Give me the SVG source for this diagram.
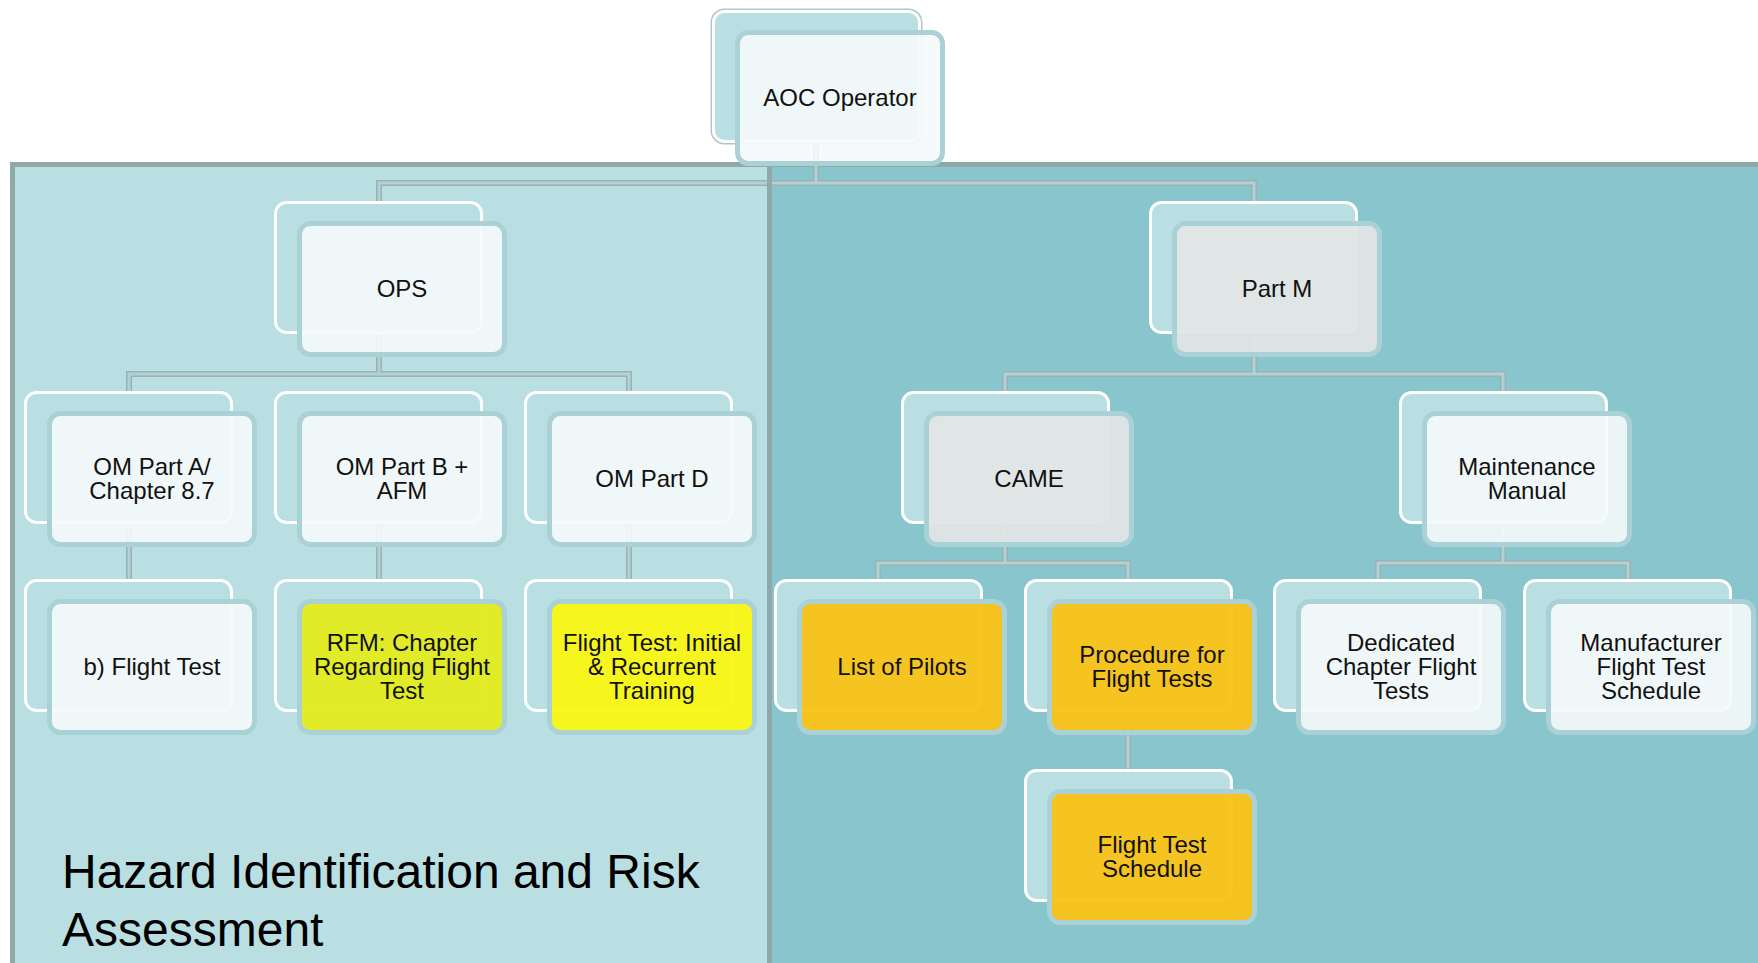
<svg xmlns="http://www.w3.org/2000/svg" width="1758" height="963" viewBox="0 0 1758 963">
  <style>
    .edge { fill: none; stroke: #b3c6c8; stroke-width: 6; }
    .bk { fill: #b9dfe2; stroke: #ffffff; stroke-width: 3; }
    .fr { stroke: #aad2d6; stroke-width: 5; fill-opacity: 0.9; }
    .w { fill: #f6fafb; }
    .g { fill: #e1e5e6; fill-opacity: 0.95; }
    .y1 { fill: #e3eb21; fill-opacity: 0.97; }
    .y2 { fill: #f8f718; fill-opacity: 0.97; }
    .o { fill: #f8c31a; fill-opacity: 0.97; }
    .lbl { font-family: "Liberation Sans", Arial, sans-serif; font-size: 24px; fill: #111; text-anchor: middle; }
    .c-out { fill: none; stroke: #98b3b6; stroke-width: 6; stroke-linejoin: miter; }
    .c-in { fill: none; stroke: #b3d0d3; stroke-width: 3; stroke-linejoin: miter; }
    .title { font-family: "Liberation Sans", Arial, sans-serif; font-size: 48px; fill: #000; }
  </style>
  <defs>
    <path id="links" d="M816,143 V183 M379,201 V183 H1254 V201
                        M379,334 V374 M129,391 V374 H629 V391
                        M1254,334 V374 M1005,391 V374 H1503 V391
                        M129,524 V579 M379,524 V579 M629,524 V579
                        M1005,524 V563 M878,579 V563 H1128 V579
                        M1503,524 V563 M1378,579 V563 H1628 V579
                        M1128,712 V769"/>
  </defs>

  <rect width="1758" height="963" fill="#ffffff"/>

  <!-- background panels -->
  <g id="panels">
    <rect x="10" y="162" width="1748" height="801" fill="#8fa9ab"/>
    <rect x="15" y="167" width="752" height="796" fill="#b9dfe2"/>
    <rect x="772" y="167" width="986" height="796" fill="#89c5cd"/>
  </g>

  <!-- connectors -->
  <g id="connectors">
    <use href="#links" class="c-out"/>
    <use href="#links" class="c-in"/>
  </g>

  <!-- panel divider -->
  <rect x="767" y="162" width="5" height="801" fill="#8fa9ab"/>

  <text class="title" x="62" y="888">Hazard Identification and Risk</text>
  <text class="title" x="62" y="946">Assessment</text>

  <!-- nodes -->
  <g id="aoc" transform="translate(712,10)">
    <rect class="edge" x="1.5" y="1.5" width="206" height="130" rx="11"/>
    <rect class="bk" x="1.5" y="1.5" width="206" height="130" rx="11"/>
    <rect class="fr w" x="25.5" y="22.5" width="205" height="131" rx="11"/>
    <text class="lbl" x="128" y="95.5">AOC Operator</text>
  </g>

  <g id="ops" transform="translate(274,201)">
    <rect class="bk" x="1.5" y="1.5" width="206" height="130" rx="11"/>
    <rect class="fr w" x="25.5" y="22.5" width="205" height="131" rx="11"/>
    <text class="lbl" x="128" y="95.5">OPS</text>
  </g>

  <g id="part-m" transform="translate(1149,201)">
    <rect class="bk" x="1.5" y="1.5" width="206" height="130" rx="11"/>
    <rect class="fr g" x="25.5" y="22.5" width="205" height="131" rx="11"/>
    <text class="lbl" x="128" y="95.5">Part M</text>
  </g>

  <g id="om-part-a" transform="translate(24,391)">
    <rect class="bk" x="1.5" y="1.5" width="206" height="130" rx="11"/>
    <rect class="fr w" x="25.5" y="22.5" width="205" height="131" rx="11"/>
    <text class="lbl" x="128" y="83.5">OM Part A/<tspan x="128" dy="24">Chapter 8.7</tspan></text>
  </g>

  <g id="om-part-b" transform="translate(274,391)">
    <rect class="bk" x="1.5" y="1.5" width="206" height="130" rx="11"/>
    <rect class="fr w" x="25.5" y="22.5" width="205" height="131" rx="11"/>
    <text class="lbl" x="128" y="83.5">OM Part B +<tspan x="128" dy="24">AFM</tspan></text>
  </g>

  <g id="om-part-d" transform="translate(524,391)">
    <rect class="bk" x="1.5" y="1.5" width="206" height="130" rx="11"/>
    <rect class="fr w" x="25.5" y="22.5" width="205" height="131" rx="11"/>
    <text class="lbl" x="128" y="95.5">OM Part D</text>
  </g>

  <g id="came" transform="translate(901,391)">
    <rect class="bk" x="1.5" y="1.5" width="206" height="130" rx="11"/>
    <rect class="fr g" x="25.5" y="22.5" width="205" height="131" rx="11"/>
    <text class="lbl" x="128" y="95.5">CAME</text>
  </g>

  <g id="maintenance-manual" transform="translate(1399,391)">
    <rect class="bk" x="1.5" y="1.5" width="206" height="130" rx="11"/>
    <rect class="fr w" x="25.5" y="22.5" width="205" height="131" rx="11"/>
    <text class="lbl" x="128" y="83.5">Maintenance<tspan x="128" dy="24">Manual</tspan></text>
  </g>

  <g id="b-flight-test" transform="translate(24,579)">
    <rect class="bk" x="1.5" y="1.5" width="206" height="130" rx="11"/>
    <rect class="fr w" x="25.5" y="22.5" width="205" height="131" rx="11"/>
    <text class="lbl" x="128" y="95.5">b) Flight Test</text>
  </g>

  <g id="rfm-chapter" transform="translate(274,579)">
    <rect class="bk" x="1.5" y="1.5" width="206" height="130" rx="11"/>
    <rect class="fr y1" x="25.5" y="22.5" width="205" height="131" rx="11"/>
    <text class="lbl" x="128" y="71.5">RFM: Chapter<tspan x="128" dy="24">Regarding Flight</tspan><tspan x="128" dy="24">Test</tspan></text>
  </g>

  <g id="flight-test-training" transform="translate(524,579)">
    <rect class="bk" x="1.5" y="1.5" width="206" height="130" rx="11"/>
    <rect class="fr y2" x="25.5" y="22.5" width="205" height="131" rx="11"/>
    <text class="lbl" x="128" y="71.5">Flight Test: Initial<tspan x="128" dy="24">&amp; Recurrent</tspan><tspan x="128" dy="24">Training</tspan></text>
  </g>

  <g id="list-of-pilots" transform="translate(774,579)">
    <rect class="bk" x="1.5" y="1.5" width="206" height="130" rx="11"/>
    <rect class="fr o" x="25.5" y="22.5" width="205" height="131" rx="11"/>
    <text class="lbl" x="128" y="95.5">List of Pilots</text>
  </g>

  <g id="procedure-flight-tests" transform="translate(1024,579)">
    <rect class="bk" x="1.5" y="1.5" width="206" height="130" rx="11"/>
    <rect class="fr o" x="25.5" y="22.5" width="205" height="131" rx="11"/>
    <text class="lbl" x="128" y="83.5">Procedure for<tspan x="128" dy="24">Flight Tests</tspan></text>
  </g>

  <g id="dedicated-chapter" transform="translate(1273,579)">
    <rect class="bk" x="1.5" y="1.5" width="206" height="130" rx="11"/>
    <rect class="fr w" x="25.5" y="22.5" width="205" height="131" rx="11"/>
    <text class="lbl" x="128" y="71.5">Dedicated<tspan x="128" dy="24">Chapter Flight</tspan><tspan x="128" dy="24">Tests</tspan></text>
  </g>

  <g id="manufacturer-schedule" transform="translate(1523,579)">
    <rect class="bk" x="1.5" y="1.5" width="206" height="130" rx="11"/>
    <rect class="fr w" x="25.5" y="22.5" width="205" height="131" rx="11"/>
    <text class="lbl" x="128" y="71.5">Manufacturer<tspan x="128" dy="24">Flight Test</tspan><tspan x="128" dy="24">Schedule</tspan></text>
  </g>

  <g id="flight-test-schedule" transform="translate(1024,769)">
    <rect class="bk" x="1.5" y="1.5" width="206" height="130" rx="11"/>
    <rect class="fr o" x="25.5" y="22.5" width="205" height="131" rx="11"/>
    <text class="lbl" x="128" y="83.5">Flight Test<tspan x="128" dy="24">Schedule</tspan></text>
  </g>
</svg>
